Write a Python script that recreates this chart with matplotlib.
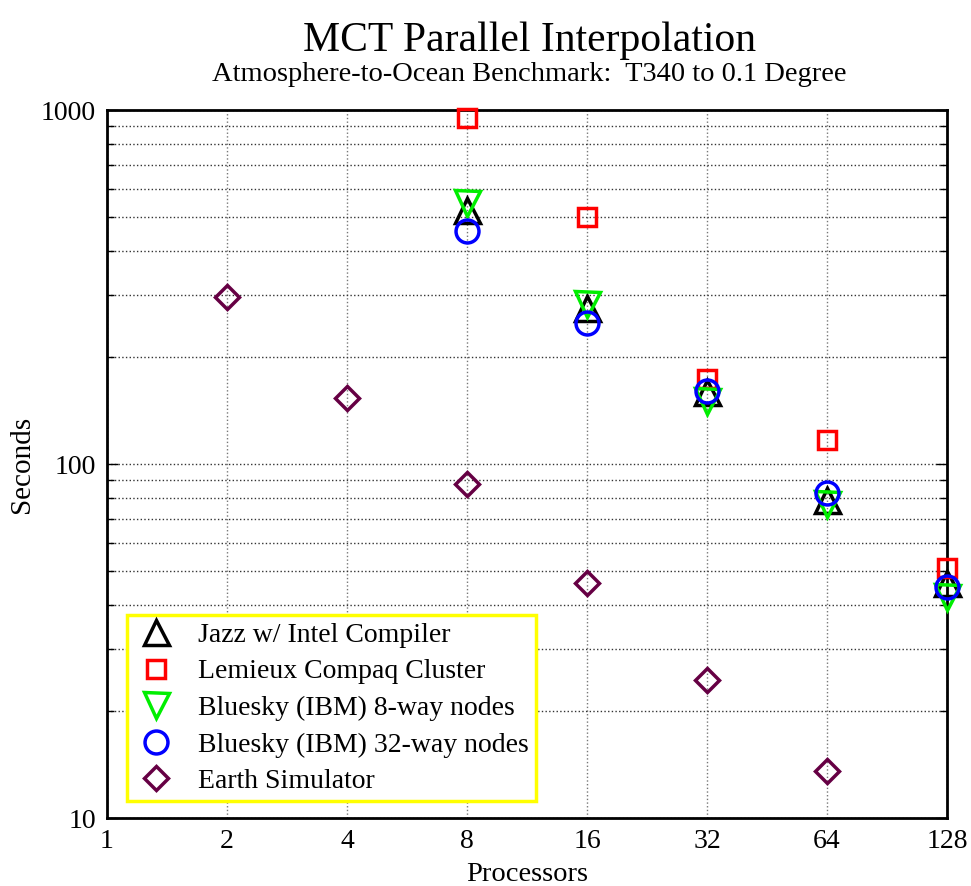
import matplotlib
matplotlib.use("Agg")
import matplotlib.pyplot as plt
from matplotlib.ticker import FixedLocator, NullFormatter, LogLocator

plt.rcParams['font.family'] = ['Liberation Serif', 'DejaVu Serif']

procs = [1, 2, 4, 8, 16, 32, 64, 128]
tick_labels = ['1', '2', '4', '8', '16', '32', '64', '128']

# machine runs: processors and seconds
jazz_p = [8, 16, 32, 64, 128]
jazz_t = [522, 276, 160, 79, 46]
lemieux_p = [8, 16, 32, 64, 128]
lemieux_t = [950, 500, 174, 117, 51]
bluesky8_p = [8, 16, 32, 64, 128]
bluesky8_t = [546, 283, 151, 77, 42]
bluesky32_p = [8, 16, 32, 64, 128]
bluesky32_t = [455, 250, 161, 83, 45]
earth_p = [2, 4, 8, 16, 32, 64]
earth_t = [296, 154, 88, 46, 24.5, 13.6]

fig = plt.figure(figsize=(9.71, 8.86), dpi=100)
ax = fig.add_axes([107/971, 68/886, 840/971, 708/886])

mew = 2.5
common = dict(linestyle='none', mfc='none', mew=mew, clip_on=False, zorder=3)
ax.plot(jazz_p, jazz_t, marker='^', ms=18, mec='black',
        label='Jazz w/ Intel Compiler', **common)
ax.plot(lemieux_p, lemieux_t, marker='s', ms=13.5, mec='#ff0000',
        label='Lemieux Compaq Cluster', **common)
ax.plot(bluesky8_p, bluesky8_t, marker='v', ms=18, mec='#00ee00',
        label='Bluesky (IBM) 8-way nodes', **common)
ax.plot(bluesky32_p, bluesky32_t, marker='o', ms=16.5, mec='#0000ff',
        label='Bluesky (IBM) 32-way nodes', **common)
ax.plot(earth_p, earth_t, marker='D', ms=12, mec='#660044',
        label='Earth Simulator', **common)

ax.set_xscale('log', base=2)
ax.set_yscale('log')
ax.set_xlim(1, 128)
ax.set_ylim(10, 1000)
ax.xaxis.set_major_locator(FixedLocator(procs))
ax.set_xticklabels(tick_labels)
ax.xaxis.set_minor_locator(FixedLocator([]))
ax.yaxis.set_major_locator(FixedLocator([10, 100, 1000]))
ax.set_yticklabels(['10', '100', '1000'])
ax.yaxis.set_minor_locator(LogLocator(base=10, subs=range(2, 10)))
ax.yaxis.set_minor_formatter(NullFormatter())

ax.tick_params(axis='both', which='both', direction='in', labelsize=20,
               top=True, right=True, length=5, width=1)
ax.tick_params(axis='x', which='major', length=0, pad=8)
ax.tick_params(axis='y', which='major', length=8, pad=8)

ax.grid(True, which='major', axis='x', linestyle=':', color='#777777', lw=1)
ax.grid(True, which='both', axis='y', linestyle=':', color='#333333', lw=1)

for sp in ax.spines.values():
    sp.set_linewidth(2)

ax.set_xlabel('Processors', fontsize=20.5, labelpad=6)
ax.set_ylabel('Seconds', fontsize=21, labelpad=4)

fig.text(0.545, 0.954, 'MCT Parallel Interpolation', ha='center', va='center', fontsize=30)
fig.text(0.545, 0.916, 'Atmosphere-to-Ocean Benchmark:  T340 to 0.1 Degree',
         ha='center', va='center', fontsize=20.5)

leg = ax.legend(loc='lower left', bbox_to_anchor=(20/840, 17/708), fontsize=20,
                frameon=True, fancybox=False, borderpad=0.25, labelspacing=0.4,
                handletextpad=0.7, handlelength=1.6, borderaxespad=0)
leg.get_frame().set_edgecolor('#ffff00')
leg.get_frame().set_linewidth(2.5)
leg.get_frame().set_facecolor('white')
leg.get_frame().set_alpha(1)

fig.savefig('out.png', dpi=100)
